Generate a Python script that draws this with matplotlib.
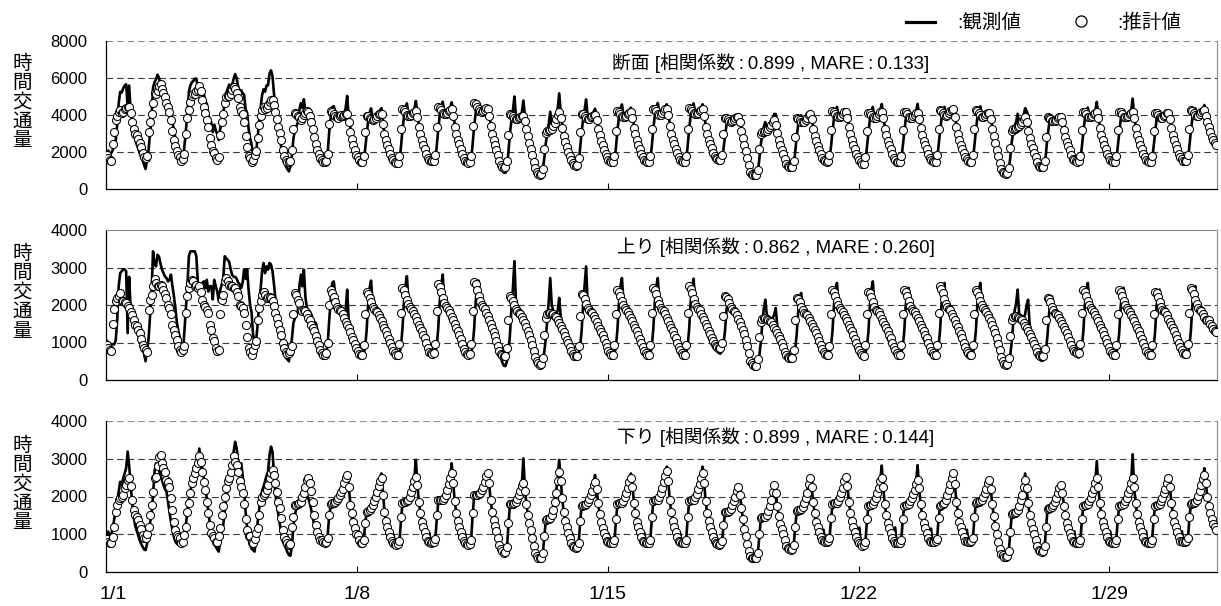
import numpy as np
import matplotlib
matplotlib.use("Agg")
import matplotlib.pyplot as plt
from matplotlib.lines import Line2D
from matplotlib.transforms import ScaledTranslation

# Hourly traffic volume, January (31 days x 24 hours), stored in units of 10 veh/h
UNIT = 10
DAYS = [f"1/{d}" for d in range(1, 32)]
TICK_LABELS = ["1/1", "1/8", "1/15", "1/22", "1/29"]

# 上り (inbound) observed
UP_OBS = [
    [105, 100, 97, 95, 95, 95, 105, 160, 250, 285, 290, 295, 295, 290, 125, 275, 190, 168, 155, 145, 132, 122, 110, 98],
    [90, 70, 50, 80, 110, 170, 230, 343, 310, 303, 334, 329, 310, 295, 285, 276, 272, 263, 267, 281, 250, 223, 190, 152],
    [130, 112, 85, 76, 130, 190, 250, 330, 343, 343, 343, 343, 330, 260, 236, 250, 259, 263, 245, 267, 236, 250, 250, 215],
    [267, 250, 236, 210, 240, 255, 270, 330, 325, 320, 315, 295, 280, 275, 275, 270, 260, 255, 245, 260, 295, 270, 295, 240],
    [200, 180, 120, 100, 105, 145, 200, 240, 290, 312, 285, 303, 294, 312, 308, 290, 255, 215, 180, 160, 143, 118, 100, 80],
    [59, 55, 50, 80, 110, 152, 165, 170, 187, 250, 281, 250, 294, 223, 192, 187, 183, 175, 161, 155, 152, 134, 121, 107],
    [85, 72, 67, 70, 100, 160, 215, 259, 263, 230, 201, 195, 192, 187, 183, 170, 187, 241, 160, 150, 135, 115, 100, 85],
    [76, 65, 60, 58, 68, 88, 130, 200, 245, 265, 210, 193, 188, 185, 180, 176, 175, 160, 125, 112, 103, 95, 87, 80],
    [74, 66, 62, 60, 70, 90, 135, 205, 250, 277, 215, 195, 190, 186, 182, 178, 176, 158, 125, 113, 104, 96, 88, 80],
    [74, 67, 63, 62, 72, 92, 138, 210, 255, 281, 218, 198, 192, 188, 184, 180, 178, 160, 127, 114, 105, 97, 88, 80],
    [73, 66, 62, 60, 70, 90, 135, 205, 248, 265, 215, 198, 193, 190, 186, 182, 180, 165, 130, 118, 108, 98, 85, 70],
    [58, 46, 38, 37, 50, 75, 120, 190, 245, 317, 210, 192, 188, 184, 180, 176, 172, 155, 120, 108, 98, 88, 72, 58],
    [50, 45, 43, 45, 55, 75, 110, 160, 210, 272, 200, 185, 180, 178, 185, 219, 170, 150, 120, 110, 100, 92, 85, 78],
    [70, 63, 60, 62, 70, 90, 130, 200, 250, 303, 210, 192, 188, 185, 180, 176, 172, 158, 125, 112, 103, 95, 87, 78],
    [72, 65, 62, 60, 70, 90, 135, 205, 250, 272, 212, 195, 190, 186, 182, 178, 176, 160, 125, 112, 103, 95, 87, 79],
    [72, 65, 62, 60, 70, 90, 135, 205, 250, 272, 215, 196, 190, 186, 182, 178, 175, 160, 126, 113, 104, 96, 88, 80],
    [73, 66, 62, 60, 70, 90, 135, 205, 248, 270, 213, 195, 190, 186, 182, 178, 176, 160, 126, 114, 106, 98, 90, 84],
    [80, 75, 72, 70, 78, 95, 130, 185, 215, 225, 205, 190, 185, 182, 178, 174, 170, 155, 125, 112, 100, 88, 70, 55],
    [45, 40, 37, 36, 45, 65, 100, 150, 190, 214, 175, 168, 165, 163, 165, 175, 192, 145, 120, 108, 98, 88, 78, 68],
    [60, 54, 50, 52, 60, 80, 120, 180, 215, 232, 200, 185, 180, 178, 175, 172, 168, 152, 122, 110, 100, 92, 84, 76],
    [72, 66, 62, 60, 70, 90, 130, 200, 240, 259, 210, 195, 190, 186, 182, 178, 176, 160, 125, 112, 103, 95, 87, 79],
    [74, 67, 62, 60, 70, 88, 125, 195, 240, 263, 205, 192, 188, 185, 180, 176, 172, 155, 122, 110, 102, 94, 86, 79],
    [72, 65, 62, 60, 70, 88, 125, 195, 235, 246, 205, 192, 188, 185, 180, 176, 172, 155, 122, 110, 102, 94, 86, 79],
    [72, 65, 62, 60, 70, 90, 130, 200, 240, 259, 208, 193, 188, 185, 180, 176, 173, 156, 123, 111, 102, 94, 86, 78],
    [72, 65, 62, 60, 70, 90, 130, 200, 240, 259, 208, 193, 188, 185, 180, 176, 172, 155, 120, 105, 92, 80, 65, 52],
    [46, 42, 40, 40, 48, 65, 100, 150, 185, 205, 241, 175, 168, 165, 165, 175, 200, 214, 150, 120, 105, 95, 85, 72],
    [62, 55, 51, 52, 60, 80, 120, 175, 210, 223, 198, 185, 180, 178, 175, 172, 168, 152, 122, 110, 100, 92, 84, 76],
    [70, 64, 61, 60, 70, 90, 130, 200, 240, 259, 208, 193, 188, 185, 180, 176, 173, 156, 123, 111, 102, 94, 86, 78],
    [70, 64, 61, 60, 70, 88, 125, 195, 235, 246, 205, 192, 188, 185, 180, 176, 174, 158, 123, 111, 102, 94, 86, 78],
    [70, 64, 61, 60, 70, 88, 125, 195, 232, 241, 203, 190, 186, 183, 178, 175, 172, 157, 124, 112, 103, 95, 87, 79],
    [72, 66, 62, 60, 70, 90, 130, 200, 238, 250, 208, 195, 190, 186, 182, 178, 176, 165, 155, 148, 142, 136, 130, 126],
]

# 上り (inbound) estimated
UP_EST = [
    [94, 85, 80, 77, 150, 190, 210, 219, 225, 232, 212, 210, 208, 205, 197, 192, 182, 174, 161, 148, 143, 134, 125, 110],
    [94, 85, 79, 76, 187, 214, 228, 250, 269, 259, 250, 250, 254, 250, 241, 230, 219, 201, 192, 175, 148, 134, 121, 108],
    [90, 81, 76, 80, 90, 179, 223, 245, 260, 267, 263, 250, 254, 245, 250, 236, 214, 201, 195, 187, 179, 148, 134, 112],
    [103, 85, 77, 80, 177, 214, 227, 263, 272, 263, 254, 250, 250, 245, 245, 236, 223, 201, 197, 192, 179, 148, 116, 85],
    [74, 67, 80, 94, 103, 161, 192, 210, 228, 236, 226, 220, 222, 221, 219, 210, 197, 179, 165, 150, 134, 121, 99, 85],
    [74, 70, 72, 77, 90, 175, 232, 227, 214, 205, 187, 183, 187, 183, 175, 165, 161, 148, 139, 130, 117, 103, 94, 81],
    [72, 68, 67, 72, 99, 200, 241, 232, 222, 207, 196, 190, 188, 185, 176, 166, 156, 146, 138, 128, 116, 106, 95, 85],
    [77, 70, 67, 68, 93, 175, 235, 230, 220, 207, 196, 189, 185, 182, 174, 165, 157, 147, 139, 130, 120, 110, 98, 87],
    [78, 72, 68, 67, 95, 180, 246, 240, 228, 214, 202, 194, 189, 185, 176, 167, 158, 148, 140, 131, 121, 111, 99, 86],
    [76, 72, 70, 72, 97, 185, 255, 248, 235, 220, 206, 197, 192, 187, 178, 168, 159, 149, 140, 131, 121, 110, 97, 84],
    [74, 70, 68, 70, 95, 185, 261, 255, 241, 225, 210, 200, 194, 189, 180, 170, 160, 149, 139, 128, 117, 105, 92, 78],
    [70, 66, 63, 64, 85, 160, 223, 220, 212, 200, 190, 183, 179, 175, 168, 160, 152, 142, 132, 120, 108, 94, 78, 62],
    [52, 45, 41, 43, 60, 120, 165, 175, 179, 178, 176, 175, 172, 168, 160, 152, 145, 135, 128, 118, 108, 98, 88, 78],
    [70, 65, 63, 64, 90, 170, 230, 226, 216, 203, 193, 186, 182, 179, 171, 162, 154, 144, 137, 129, 119, 109, 98, 87],
    [78, 72, 68, 68, 93, 175, 241, 236, 225, 211, 199, 191, 186, 182, 174, 165, 157, 147, 139, 130, 120, 110, 98, 87],
    [78, 72, 68, 68, 93, 178, 246, 241, 229, 214, 202, 193, 188, 184, 175, 166, 158, 148, 140, 131, 121, 111, 99, 88],
    [79, 72, 68, 68, 94, 180, 250, 244, 232, 217, 204, 195, 190, 186, 177, 168, 159, 149, 141, 132, 122, 113, 103, 95],
    [90, 87, 85, 86, 100, 170, 223, 222, 215, 205, 196, 189, 185, 181, 173, 164, 155, 144, 134, 122, 108, 92, 72, 52],
    [45, 40, 37, 38, 55, 115, 155, 162, 165, 165, 163, 161, 158, 154, 147, 140, 133, 125, 118, 110, 100, 88, 76, 66],
    [62, 60, 59, 60, 80, 160, 219, 215, 207, 196, 187, 180, 176, 173, 166, 158, 150, 141, 133, 125, 115, 105, 94, 82],
    [75, 70, 68, 68, 92, 175, 241, 236, 225, 211, 199, 191, 186, 182, 174, 165, 157, 147, 139, 130, 120, 110, 98, 87],
    [80, 72, 66, 65, 93, 175, 236, 231, 221, 207, 196, 188, 184, 181, 173, 164, 156, 146, 138, 130, 120, 112, 100, 88],
    [80, 72, 67, 66, 93, 176, 240, 235, 224, 210, 198, 190, 185, 182, 174, 165, 157, 147, 139, 130, 120, 111, 99, 87],
    [78, 71, 67, 66, 94, 180, 250, 244, 232, 217, 204, 195, 190, 186, 177, 168, 159, 149, 141, 132, 122, 112, 100, 88],
    [78, 71, 67, 66, 93, 176, 241, 236, 225, 211, 199, 191, 186, 182, 174, 165, 157, 146, 136, 125, 112, 97, 80, 62],
    [50, 44, 41, 42, 58, 118, 160, 168, 170, 170, 168, 166, 163, 159, 152, 145, 138, 130, 122, 114, 105, 95, 85, 75],
    [66, 64, 63, 64, 82, 160, 219, 215, 207, 196, 187, 180, 176, 173, 166, 158, 150, 141, 133, 125, 115, 105, 94, 82],
    [77, 74, 72, 72, 95, 178, 241, 236, 225, 211, 199, 191, 186, 182, 174, 165, 157, 147, 139, 130, 120, 110, 98, 87],
    [78, 71, 67, 66, 93, 176, 241, 236, 225, 211, 199, 191, 186, 182, 174, 165, 157, 147, 139, 130, 120, 110, 98, 87],
    [78, 71, 67, 66, 93, 175, 236, 231, 221, 207, 196, 188, 184, 181, 173, 164, 156, 146, 138, 130, 120, 110, 98, 87],
    [79, 73, 70, 70, 95, 180, 246, 241, 229, 214, 202, 193, 188, 184, 176, 168, 160, 160, 160, 150, 143, 135, 130, 128],
]

# 下り (outbound) observed
DOWN_OBS = [
    [95, 107, 80, 100, 115, 140, 160, 186, 213, 239, 230, 248, 262, 275, 319, 283, 230, 186, 151, 124, 110, 98, 85, 75],
    [67, 60, 58, 75, 100, 130, 151, 204, 266, 288, 283, 270, 257, 244, 230, 220, 213, 186, 160, 133, 111, 93, 80, 75],
    [72, 70, 69, 80, 100, 125, 160, 195, 215, 232, 240, 252, 265, 290, 327, 290, 275, 250, 225, 195, 160, 130, 108, 92],
    [80, 67, 60, 54, 85, 105, 125, 160, 195, 220, 248, 265, 283, 320, 345, 327, 292, 275, 288, 257, 213, 160, 116, 85],
    [72, 62, 58, 54, 90, 130, 165, 195, 215, 226, 240, 255, 265, 310, 332, 319, 257, 204, 173, 151, 124, 100, 80, 71],
    [63, 52, 45, 43, 70, 120, 151, 169, 173, 178, 182, 186, 190, 197, 204, 195, 182, 164, 142, 125, 107, 98, 90, 85],
    [82, 75, 71, 75, 100, 151, 175, 182, 184, 186, 188, 190, 195, 208, 225, 239, 250, 261, 230, 186, 151, 124, 107, 93],
    [118, 85, 76, 72, 80, 125, 158, 162, 165, 170, 178, 188, 200, 215, 235, 250, 261, 210, 160, 135, 118, 105, 92, 84],
    [100, 76, 70, 68, 78, 135, 180, 182, 183, 185, 192, 200, 212, 228, 250, 297, 235, 185, 157, 135, 120, 107, 95, 86],
    [104, 80, 76, 75, 84, 140, 185, 188, 188, 190, 196, 205, 218, 235, 255, 288, 238, 188, 158, 136, 121, 108, 95, 84],
    [102, 76, 72, 70, 82, 150, 200, 202, 202, 204, 208, 215, 225, 238, 255, 261, 238, 192, 162, 140, 123, 108, 88, 70],
    [56, 52, 50, 50, 62, 125, 178, 180, 180, 182, 186, 194, 205, 218, 235, 301, 225, 182, 152, 130, 110, 88, 68, 50],
    [42, 38, 36, 38, 48, 90, 135, 140, 142, 145, 152, 168, 190, 215, 250, 297, 245, 195, 160, 135, 118, 104, 90, 80],
    [100, 68, 63, 63, 75, 130, 175, 178, 178, 180, 186, 194, 205, 218, 235, 257, 225, 184, 154, 133, 118, 105, 92, 84],
    [102, 78, 74, 74, 82, 135, 180, 182, 182, 184, 189, 198, 210, 224, 245, 261, 230, 186, 156, 134, 119, 106, 93, 84],
    [104, 78, 74, 74, 84, 140, 186, 190, 190, 192, 198, 208, 222, 240, 258, 279, 242, 192, 160, 136, 121, 107, 94, 84],
    [102, 78, 74, 74, 84, 140, 186, 190, 190, 192, 198, 207, 220, 236, 255, 279, 238, 190, 158, 136, 121, 107, 94, 84],
    [100, 74, 70, 70, 80, 120, 155, 158, 160, 162, 168, 177, 188, 202, 218, 230, 208, 172, 140, 115, 95, 75, 55, 42],
    [38, 36, 36, 38, 48, 95, 140, 145, 145, 147, 152, 162, 176, 192, 215, 230, 212, 176, 148, 128, 113, 100, 86, 72],
    [64, 60, 58, 60, 70, 115, 160, 164, 164, 166, 172, 182, 196, 212, 235, 248, 228, 186, 156, 134, 118, 105, 93, 84],
    [112, 82, 80, 80, 88, 138, 178, 182, 182, 184, 189, 198, 210, 224, 242, 252, 230, 186, 156, 134, 119, 106, 93, 84],
    [118, 75, 70, 68, 76, 132, 172, 176, 178, 180, 187, 196, 210, 224, 245, 282, 225, 180, 152, 130, 117, 103, 90, 82],
    [118, 78, 76, 75, 82, 135, 174, 178, 178, 180, 187, 195, 207, 220, 240, 283, 224, 180, 152, 130, 117, 103, 91, 82],
    [115, 80, 79, 78, 86, 138, 175, 178, 180, 184, 192, 203, 218, 232, 248, 257, 232, 186, 155, 133, 118, 105, 92, 83],
    [112, 82, 80, 80, 88, 140, 182, 185, 185, 187, 192, 200, 210, 220, 235, 244, 220, 180, 148, 122, 100, 80, 60, 46],
    [42, 40, 40, 42, 52, 100, 150, 155, 155, 158, 165, 176, 190, 206, 230, 261, 222, 182, 152, 130, 115, 100, 85, 68],
    [58, 55, 52, 54, 64, 115, 165, 169, 170, 172, 178, 186, 196, 208, 222, 230, 210, 175, 150, 130, 116, 103, 92, 82],
    [108, 78, 76, 76, 84, 136, 175, 178, 178, 180, 187, 196, 208, 222, 240, 294, 226, 182, 153, 132, 118, 105, 92, 83],
    [108, 78, 76, 76, 84, 136, 175, 178, 178, 180, 187, 196, 208, 222, 240, 312, 226, 182, 153, 132, 118, 105, 92, 83],
    [108, 78, 76, 76, 84, 136, 175, 178, 178, 180, 187, 196, 208, 222, 240, 248, 224, 182, 153, 132, 118, 105, 92, 83],
    [108, 80, 80, 80, 88, 140, 180, 182, 182, 185, 192, 202, 215, 230, 248, 275, 238, 200, 175, 155, 140, 128, 118, 110],
]

# 下り (outbound) estimated
DOWN_EST = [
    [88, 80, 76, 76, 93, 120, 160, 177, 190, 195, 200, 204, 222, 230, 245, 250, 228, 190, 165, 150, 146, 138, 125, 115],
    [98, 89, 89, 100, 120, 150, 177, 213, 248, 252, 280, 305, 310, 290, 275, 266, 244, 239, 226, 195, 164, 133, 111, 98],
    [93, 89, 76, 80, 98, 120, 160, 182, 208, 235, 248, 261, 275, 288, 306, 292, 266, 239, 217, 186, 155, 125, 102, 95],
    [89, 80, 80, 95, 116, 150, 175, 200, 222, 240, 250, 265, 283, 306, 292, 283, 266, 240, 225, 210, 180, 140, 110, 95],
    [95, 80, 76, 88, 102, 116, 151, 186, 200, 204, 208, 217, 230, 248, 261, 270, 257, 235, 213, 186, 169, 142, 110, 93],
    [85, 76, 72, 75, 120, 147, 178, 178, 180, 182, 186, 198, 210, 225, 245, 248, 235, 215, 186, 151, 125, 107, 94, 85],
    [85, 80, 78, 80, 89, 150, 180, 182, 184, 186, 190, 195, 204, 213, 220, 235, 248, 257, 226, 178, 155, 133, 116, 100],
    [98, 85, 78, 76, 85, 130, 160, 162, 165, 170, 178, 188, 200, 212, 228, 242, 250, 205, 160, 135, 118, 105, 92, 82],
    [78, 74, 72, 74, 82, 145, 184, 185, 185, 187, 192, 200, 212, 225, 240, 252, 230, 185, 155, 133, 118, 105, 92, 83],
    [80, 78, 80, 80, 88, 150, 190, 190, 190, 192, 197, 205, 218, 232, 250, 261, 235, 188, 157, 135, 120, 106, 93, 82],
    [78, 74, 72, 74, 85, 155, 204, 204, 204, 206, 210, 216, 225, 238, 255, 261, 235, 190, 160, 138, 122, 108, 90, 72],
    [62, 55, 50, 52, 65, 130, 180, 180, 180, 182, 186, 194, 205, 215, 228, 235, 215, 180, 152, 130, 110, 90, 70, 50],
    [42, 38, 36, 38, 50, 95, 138, 140, 140, 142, 150, 165, 185, 210, 240, 266, 240, 195, 160, 135, 118, 104, 90, 78],
    [70, 65, 63, 65, 78, 135, 176, 178, 178, 180, 185, 194, 205, 215, 230, 239, 220, 182, 153, 132, 117, 104, 92, 83],
    [80, 78, 76, 77, 85, 140, 180, 182, 182, 184, 189, 198, 210, 222, 238, 248, 225, 184, 155, 133, 118, 105, 92, 83],
    [80, 78, 76, 77, 86, 145, 188, 190, 190, 192, 198, 208, 222, 238, 255, 268, 240, 190, 158, 135, 120, 106, 93, 83],
    [80, 78, 76, 77, 86, 145, 188, 190, 190, 192, 198, 207, 220, 234, 250, 261, 235, 188, 157, 135, 120, 106, 93, 82],
    [78, 74, 72, 73, 82, 125, 158, 160, 160, 162, 168, 177, 188, 200, 215, 226, 205, 170, 140, 115, 95, 75, 55, 42],
    [38, 36, 36, 38, 50, 100, 143, 145, 145, 147, 152, 162, 175, 190, 212, 230, 210, 175, 148, 128, 113, 100, 85, 70],
    [64, 60, 58, 60, 72, 120, 162, 164, 164, 166, 172, 182, 195, 210, 232, 248, 225, 185, 155, 133, 118, 105, 93, 84],
    [82, 80, 80, 82, 90, 142, 180, 182, 182, 184, 189, 198, 210, 222, 240, 252, 228, 186, 156, 134, 119, 106, 92, 83],
    [78, 73, 70, 72, 80, 140, 176, 178, 178, 180, 187, 196, 210, 222, 240, 250, 225, 180, 152, 130, 117, 103, 90, 81],
    [78, 76, 76, 77, 84, 140, 176, 178, 178, 180, 187, 195, 207, 218, 234, 244, 222, 180, 152, 130, 117, 103, 91, 82],
    [80, 80, 80, 81, 88, 142, 176, 178, 180, 184, 192, 203, 218, 233, 250, 261, 232, 186, 155, 133, 118, 105, 92, 83],
    [82, 80, 80, 82, 90, 145, 183, 185, 185, 187, 192, 200, 210, 220, 235, 244, 220, 180, 148, 122, 100, 80, 62, 48],
    [44, 41, 40, 42, 55, 105, 153, 155, 155, 158, 165, 176, 190, 205, 225, 244, 222, 182, 152, 130, 115, 100, 85, 68],
    [58, 55, 54, 56, 68, 120, 167, 169, 170, 172, 178, 186, 196, 208, 222, 230, 210, 175, 150, 130, 116, 103, 92, 82],
    [80, 78, 76, 77, 85, 140, 176, 178, 178, 180, 187, 196, 208, 220, 236, 248, 224, 182, 153, 132, 118, 105, 92, 83],
    [80, 78, 76, 77, 85, 140, 176, 178, 178, 180, 187, 196, 208, 220, 236, 248, 224, 182, 153, 132, 118, 105, 92, 83],
    [80, 78, 76, 77, 85, 140, 176, 178, 178, 180, 187, 196, 208, 220, 236, 248, 224, 182, 153, 132, 118, 105, 92, 83],
    [82, 80, 80, 82, 90, 145, 180, 182, 182, 185, 192, 202, 215, 230, 246, 257, 235, 200, 175, 155, 140, 128, 118, 110],
]

# Panel captions: name, correlation coefficient, MARE
PANEL_NAMES = ["断面", "上り", "下り"]
CORR = ["0.899", "0.862", "0.899"]
MARE = ["0.133", "0.260", "0.144"]
Y_MAX = [8000, 4000, 4000]
Y_STEP = [2000, 1000, 1000]
Y_LABEL = "時間交通量"
LEGEND_OBS = ":観測値"
LEGEND_EST = ":推計値"

JP = ["Liberation Sans", "Noto Sans CJK JP", "DejaVu Sans"]
THIN = "\u2009"


def flat(rows):
    return np.asarray(rows, dtype=float).ravel() * UNIT


up_obs, up_est = flat(UP_OBS), flat(UP_EST)
dn_obs, dn_est = flat(DOWN_OBS), flat(DOWN_EST)
# cross-section total = both directions combined
series = [
    (up_obs + dn_obs, up_est + dn_est),
    (up_obs, up_est),
    (dn_obs, dn_est),
]

n_hours = 24 * len(DAYS)
hours = np.arange(n_hours) + 0.5
tick_pos = [24 * DAYS.index(lbl) for lbl in TICK_LABELS]

W, H = 1221, 606
fig = plt.figure(figsize=(W / 100, H / 100), dpi=100)

# pixel boxes of the three plot areas: (top, bottom)
boxes = [(40.7, 189.0), (230.0, 380.0), (421.0, 572.0)]
left_px, right_px = 106.0, 1217.0
caption_y = [63, 247, 437]
caption_x = [771, 776, 776]

for i, ((top, bot), (obs, est)) in enumerate(zip(boxes, series)):
    ax = fig.add_axes([left_px / W, 1 - bot / H, (right_px - left_px) / W, (bot - top) / H])
    ax.set_xlim(0, n_hours)
    ax.set_ylim(0, Y_MAX[i])

    ax.plot(hours, obs, color="black", lw=1.9, solid_joinstyle="round", zorder=3)
    ax.plot(hours, est, linestyle="none", marker="o", ms=5.8, mfc="white",
            mec="black", mew=0.75, zorder=4)

    yt = np.arange(0, Y_MAX[i] + 1, Y_STEP[i])
    for v in yt[1:]:
        top_line = v == Y_MAX[i]
        if top_line and i == 1:
            continue
        ax.axhline(v, color="#8a8a8a" if top_line else "#3a3a3a", lw=0.8,
                   linestyle=(0, (6, 3.5)), zorder=1)

    ax.set_yticks(yt)
    ax.set_yticklabels([str(int(v)) for v in yt], fontsize=12, family=JP)
    ax.tick_params(axis="y", length=0, pad=13.5)
    ax.set_xticks(tick_pos)
    ax.tick_params(axis="x", direction="in", length=4.5, width=0.8, pad=10)
    if i == 2:
        labels = ax.set_xticklabels(TICK_LABELS, fontsize=14, family=JP)
        labels[0].set_transform(labels[0].get_transform()
                                + ScaledTranslation(0.07, 0, fig.dpi_scale_trans))
    else:
        ax.set_xticklabels([])

    for side in ("left", "bottom"):
        ax.spines[side].set_color("black")
        ax.spines[side].set_linewidth(0.9)
    ax.spines["right"].set_color("#8a8a8a")
    ax.spines["right"].set_linewidth(0.8)
    if i == 1:
        ax.spines["top"].set_color("#8a8a8a")
        ax.spines["top"].set_linewidth(0.8)
    else:
        ax.spines["top"].set_visible(False)

    # caption with fit statistics
    colon = THIN + ":" + THIN
    fig.text(caption_x[i] / W, 1 - caption_y[i] / H,
             f"{PANEL_NAMES[i]} [相関係数{colon}{CORR[i]} , MARE{colon}{MARE[i]}]",
             ha="center", va="center", fontsize=13.5, family=JP)

    # vertical y-axis label, one character per line
    centre = (top + bot) / 2 - 12
    for k, ch in enumerate(Y_LABEL):
        y = centre + (k - 2) * 19.5
        fig.text(22 / W, 1 - y / H, ch, ha="center", va="center",
                 fontsize=14, family=JP)

# legend
fig.add_artist(Line2D([906 / W, 935 / W], [1 - 22 / H, 1 - 22 / H],
                      transform=fig.transFigure, color="black", lw=2.3))
fig.text(957 / W, 1 - 23 / H, LEGEND_OBS, ha="left", va="center", fontsize=14, family=JP)
fig.add_artist(Line2D([1081 / W], [1 - 21 / H], transform=fig.transFigure,
                      linestyle="none", marker="o", ms=8, mfc="white", mec="black", mew=0.9))
fig.text(1117 / W, 1 - 23 / H, LEGEND_EST, ha="left", va="center", fontsize=14, family=JP)

fig.savefig("out.png", dpi=100, facecolor="white")
